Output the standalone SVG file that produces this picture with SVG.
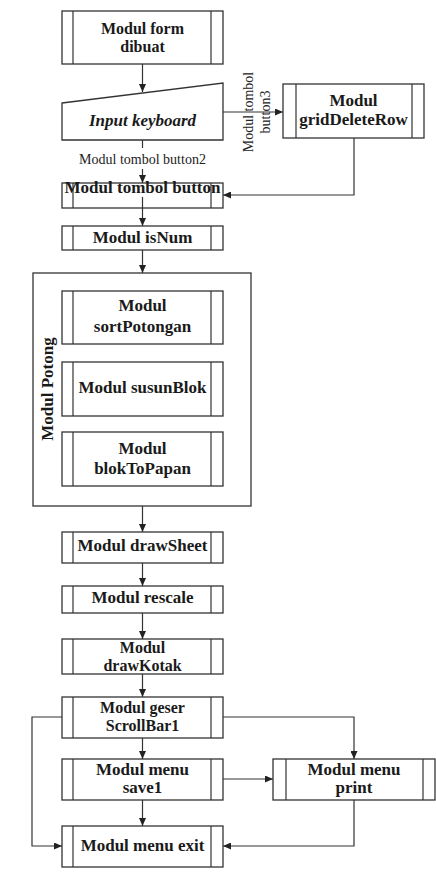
<svg xmlns="http://www.w3.org/2000/svg" width="436" height="888" viewBox="0 0 436 888">
<defs>
<marker id="arr" markerWidth="8" markerHeight="7" refX="8" refY="3.5" orient="auto" markerUnits="userSpaceOnUse">
<path d="M0,0 L8,3.5 L0,7 z" fill="#222"/>
</marker>
<style>
.box{fill:#fff;stroke:#333;stroke-width:1.3}
.in{stroke:#333;stroke-width:1.2}
.t{font-family:"Liberation Serif","Times New Roman",serif;font-weight:bold;font-size:17px;fill:#1a1a1a;text-anchor:middle}
.t2{font-size:16px}
.s{font-family:"Liberation Serif","Times New Roman",serif;font-size:14px;fill:#222;text-anchor:middle}
.c{fill:none;stroke:#333;stroke-width:1.2}
</style>
</defs>
<rect width="436" height="888" fill="#fff"/>

<g id="connectors">
<path class="c" d="M142.5,64 V92" marker-end="url(#arr)"/>
<path class="c" d="M223,112 H283" marker-end="url(#arr)"/>
<path class="c" d="M142.5,140 V148"/>
<path class="c" d="M142.5,169 V183" marker-end="url(#arr)"/>
<path class="c" d="M354,138 V195 H223" marker-end="url(#arr)"/>
<path class="c" d="M142.5,197 V226" marker-end="url(#arr)"/>
<path class="c" d="M142.5,250 V273" marker-end="url(#arr)"/>
<path class="c" d="M142.5,344 V362" marker-end="url(#arr)"/>
<path class="c" d="M142.5,416 V432" marker-end="url(#arr)"/>
<path class="c" d="M142.5,506 V532" marker-end="url(#arr)"/>
<path class="c" d="M142.5,563 V586" marker-end="url(#arr)"/>
<path class="c" d="M142.5,613 V639" marker-end="url(#arr)"/>
<path class="c" d="M142.5,674 V697" marker-end="url(#arr)"/>
<path class="c" d="M142.5,738 V759" marker-end="url(#arr)"/>
<path class="c" d="M62,717 H32 V846 H62" marker-end="url(#arr)"/>
<path class="c" d="M223,717 H354 V759" marker-end="url(#arr)"/>
<path class="c" d="M223,779 H273" marker-end="url(#arr)"/>
<path class="c" d="M142.5,800 V826" marker-end="url(#arr)"/>
<path class="c" d="M354,800 V846 H223" marker-end="url(#arr)"/>
<text class="s" x="142.5" y="164">Modul tombol button2</text>
<text class="s" transform="translate(253,112) rotate(-90)" x="0" y="0">Modul tombol</text>
<text class="s" transform="translate(270,112) rotate(-90)" x="0" y="0">button3</text>
</g>

<g id="formDibuat">
<rect class="box" x="62" y="11" width="161" height="53"/>
<line class="in" x1="73" y1="11" x2="73" y2="64"/><line class="in" x1="211" y1="11" x2="211" y2="64"/>
<text class="t t2" x="142.5" y="33.5">Modul form</text>
<text class="t t2" x="142.5" y="51.5">dibuat</text>
</g>

<g id="inputKeyboard">
<polygon class="box" points="62,103 223,83 223,140 62,140"/>
<text class="t" x="142.5" y="126" font-style="italic">Input keyboard</text>
</g>

<g id="gridDeleteRow">
<rect class="box" x="283" y="84" width="141" height="54"/>
<line class="in" x1="296" y1="84" x2="296" y2="138"/><line class="in" x1="412" y1="84" x2="412" y2="138"/>
<text class="t" x="353.5" y="106">Modul</text>
<text class="t" x="353.5" y="125">gridDeleteRow</text>
</g>

<g id="tombolButton">
<rect class="box" x="62" y="183" width="161" height="25" fill-opacity="0"/>
<line class="in" x1="73" y1="183" x2="73" y2="208"/><line class="in" x1="211" y1="183" x2="211" y2="208"/>
<text class="t" x="142.5" y="192.5" font-size="14">Modul tombol button</text>
</g>

<g id="isNum">
<rect class="box" x="62" y="226" width="161" height="24"/>
<line class="in" x1="73" y1="226" x2="73" y2="250"/><line class="in" x1="211" y1="226" x2="211" y2="250"/>
<text class="t" x="142.5" y="243">Modul isNum</text>
</g>

<g id="modulPotong">
<rect class="box" x="33" y="273" width="218" height="233"/>
<text class="t" transform="translate(53,389) rotate(-90)" x="0" y="0">Modul Potong</text>
</g>

<g id="sortPotongan">
<rect class="box" x="62" y="291" width="161" height="53"/>
<line class="in" x1="73" y1="291" x2="73" y2="344"/><line class="in" x1="211" y1="291" x2="211" y2="344"/>
<text class="t" x="142.5" y="311">Modul</text>
<text class="t" x="142.5" y="332">sortPotongan</text>
</g>

<g id="susunBlok">
<rect class="box" x="62" y="362" width="161" height="54"/>
<line class="in" x1="73" y1="362" x2="73" y2="416"/><line class="in" x1="211" y1="362" x2="211" y2="416"/>
<text class="t" x="142.5" y="393">Modul susunBlok</text>
</g>

<g id="blokToPapan">
<rect class="box" x="62" y="432" width="161" height="54"/>
<line class="in" x1="73" y1="432" x2="73" y2="486"/><line class="in" x1="211" y1="432" x2="211" y2="486"/>
<text class="t" x="142.5" y="454">Modul</text>
<text class="t" x="142.5" y="474">blokToPapan</text>
</g>

<g id="drawSheet">
<rect class="box" x="62" y="532" width="161" height="31"/>
<line class="in" x1="73" y1="532" x2="73" y2="563"/><line class="in" x1="211" y1="532" x2="211" y2="563"/>
<text class="t" x="142.5" y="551">Modul drawSheet</text>
</g>

<g id="rescale">
<rect class="box" x="62" y="586" width="161" height="27"/>
<line class="in" x1="73" y1="586" x2="73" y2="613"/><line class="in" x1="211" y1="586" x2="211" y2="613"/>
<text class="t" x="142.5" y="603">Modul rescale</text>
</g>

<g id="drawKotak">
<rect class="box" x="62" y="639" width="161" height="35"/>
<line class="in" x1="73" y1="639" x2="73" y2="674"/><line class="in" x1="211" y1="639" x2="211" y2="674"/>
<text class="t t2" x="142.5" y="652.5">Modul</text>
<text class="t t2" x="142.5" y="670.5">drawKotak</text>
</g>

<g id="scrollBar1">
<rect class="box" x="62" y="697" width="161" height="41"/>
<line class="in" x1="73" y1="697" x2="73" y2="738"/><line class="in" x1="211" y1="697" x2="211" y2="738"/>
<text class="t t2" x="142.5" y="712.5">Modul geser</text>
<text class="t t2" x="142.5" y="730.5">ScrollBar1</text>
</g>

<g id="save1">
<rect class="box" x="62" y="759" width="161" height="41"/>
<line class="in" x1="73" y1="759" x2="73" y2="800"/><line class="in" x1="211" y1="759" x2="211" y2="800"/>
<text class="t" x="142.5" y="775">Modul menu</text>
<text class="t" x="142.5" y="793">save1</text>
</g>

<g id="print">
<rect class="box" x="273" y="759" width="162" height="41"/>
<line class="in" x1="286" y1="759" x2="286" y2="800"/><line class="in" x1="423" y1="759" x2="423" y2="800"/>
<text class="t" x="354" y="775">Modul menu</text>
<text class="t" x="354" y="793">print</text>
</g>

<g id="menuExit">
<rect class="box" x="62" y="826" width="161" height="41"/>
<line class="in" x1="73" y1="826" x2="73" y2="867"/><line class="in" x1="211" y1="826" x2="211" y2="867"/>
<text class="t" x="142.5" y="851">Modul menu exit</text>
</g>
</svg>
